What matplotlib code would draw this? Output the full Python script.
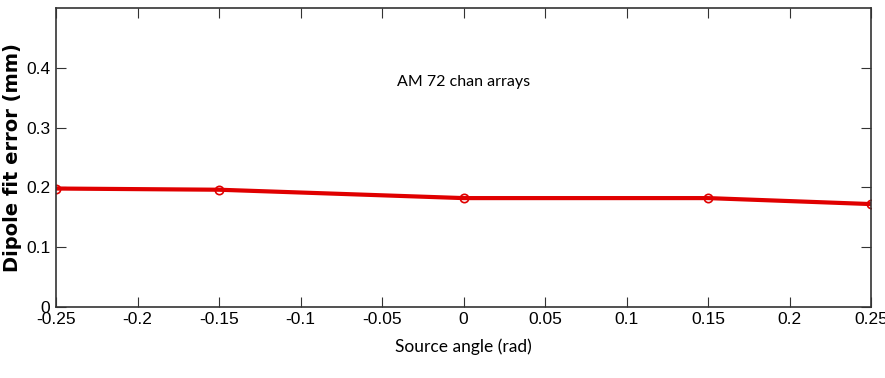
import matplotlib.pyplot as plt

# source angle vs dipole fit error
angle = [-0.25, -0.15, 0.0, 0.15, 0.25]
fit_error = [0.198, 0.196, 0.182, 0.182, 0.172]
xticks = [-0.25, -0.2, -0.15, -0.1, -0.05, 0, 0.05, 0.1, 0.15, 0.2, 0.25]
xticklabels = ['-0.25', '-0.2', '-0.15', '-0.1', '-0.05', '0', '0.05', '0.1', '0.15', '0.2', '0.25']
yticks = [0, 0.1, 0.2, 0.3, 0.4]
yticklabels = ['0', '0.1', '0.2', '0.3', '0.4']

fig = plt.figure(figsize=(8.85, 3.78), dpi=100)
ax = fig.add_axes([0.0633, 0.188, 0.921, 0.791])

ax.plot(angle, fit_error, color='#e00000', lw=3, marker='o', ms=6,
        mfc='none', mec='#e00000', mew=1.2)

ax.set_xlim(-0.25, 0.25)
ax.set_ylim(0, 0.5)
ax.set_xticks(xticks)
ax.set_xticklabels(xticklabels, family='Liberation Sans', fontsize=12.5)
ax.set_yticks(yticks)
ax.set_yticklabels(yticklabels, family='Liberation Sans', fontsize=12.5)
ax.tick_params(direction='in', length=7, top=True, right=True, pad=4, color='#333333')
for s in ax.spines.values():
    s.set_color('#333333')
    s.set_linewidth(1.2)

ax.text(0.0, 0.376, 'AM 72 chan arrays', ha='center', va='center',
        family='Lato', fontsize=11.5)
ax.set_xlabel('Source angle (rad)', family='Lato', fontsize=12.5, labelpad=8)
ax.set_ylabel('Dipole fit error (mm)', family='DejaVu Sans', fontweight='bold',
              fontsize=14)
ax.yaxis.set_label_coords(-0.042, 0.5)

plt.savefig('out.png', dpi=100)
